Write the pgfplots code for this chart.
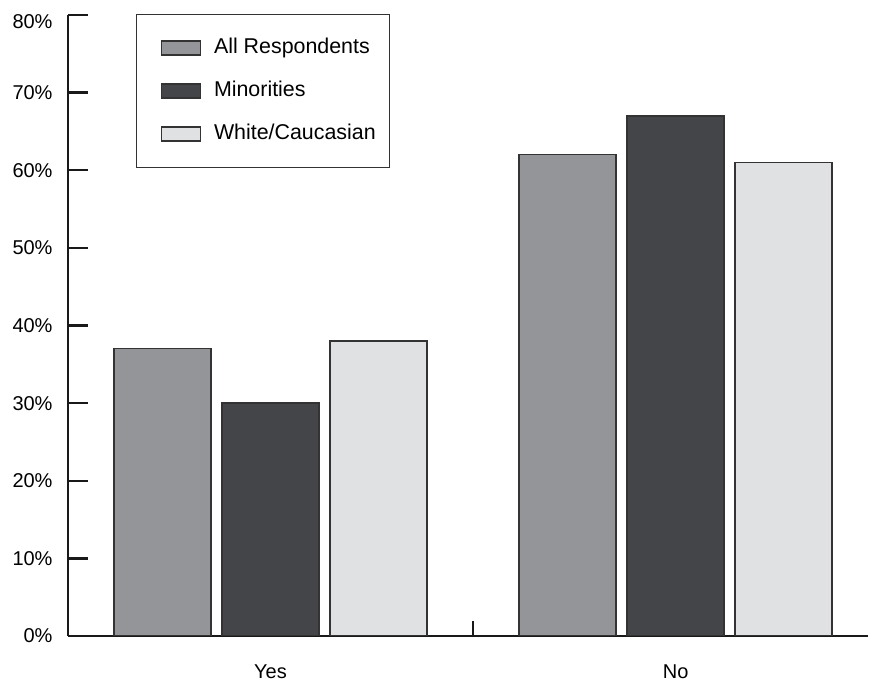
\documentclass[border=0pt]{standalone}
\usepackage{pgfplots}
\pgfplotsset{compat=1.18}
\usepackage{fontspec}
\setmainfont{Liberation Sans}
\definecolor{cAll}{HTML}{939598}
\definecolor{cMin}{HTML}{444548}
\definecolor{cWhite}{HTML}{E0E1E2}
\definecolor{cEdge}{HTML}{333333}
\begin{document}
\begin{tikzpicture}
\useasboundingbox (-34pt,-22pt) rectangle (400.5pt,318pt);
\begin{axis}[
  at={(0,0)}, anchor=south west,
  width=400pt, height=310.5pt, scale only axis,
  xmin=-0.5, xmax=1.475, ymin=0, ymax=80,
  axis x line=bottom, axis y line=left,
  axis line style={-, line width=1.2pt, draw=black!90},
  xtick align=inside, ytick align=inside, major tick length=10pt,
  tick style={line width=1.2pt, draw=black!90},
  /pgf/number format/assume math mode=true,
  ytick={0,10,...,70},
  yticklabel={\pgfmathprintnumber{\tick}\%},
  extra y ticks={80}, extra y tick labels={80\%},
  extra y tick style={yticklabel style={yshift=-3.5pt}},
  xtick=\empty,
  extra x ticks={0,1}, extra x tick labels={Yes,No},
  extra x tick style={major tick length=0pt, xticklabel style={yshift=-11pt}},
  ticklabel style={font=\fontsize{10}{12}\selectfont},
  yticklabel style={xshift=-4.2pt},
  ybar=5.5pt, bar width=48.5pt,
  legend image code/.code={\path (0pt,0pt); \draw[#1] (5pt,-3.5pt) rectangle (24.5pt,3.5pt);},
  legend cell align=left,
  legend style={draw=cEdge, line width=0.6pt, at={(rel axis cs:0.085,1.002)}, anchor=north west,
    inner xsep=7pt, inner ysep=12pt, row sep=11.8pt, column sep=6.5pt,
    font=\fontsize{10.7}{13}\selectfont,
    nodes={inner sep=0pt, text height=7.5pt, text depth=2.2pt}},
]
\addplot[fill=cAll, draw=cEdge, line width=0.7pt] coordinates {(0,37) (1,62)};
\addlegendentry{All Respondents}
\addplot[fill=cMin, draw=cEdge, line width=0.7pt] coordinates {(0,30) (1,67)};
\addlegendentry{Minorities}
\addplot[fill=cWhite, draw=cEdge, line width=0.7pt] coordinates {(0,38) (1,61)};
\addlegendentry{White/Caucasian}
\draw[line width=1.2pt, draw=black!90] (axis cs:0.5,0) -- ++(0pt,7.5pt);
\end{axis}
\end{tikzpicture}
\end{document}
